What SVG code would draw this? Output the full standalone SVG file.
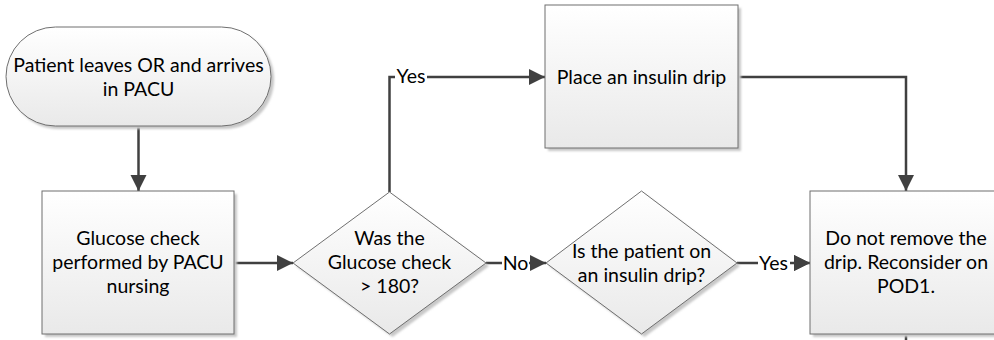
<svg xmlns="http://www.w3.org/2000/svg" width="994" height="340" viewBox="0 0 994 340">
  <defs>
    <linearGradient id="g" x1="0" y1="0" x2="0" y2="1">
      <stop offset="0" stop-color="#ffffff"/>
      <stop offset="1" stop-color="#e9e9e9"/>
    </linearGradient>
    <filter id="sh" x="-10%" y="-10%" width="130%" height="130%">
      <feGaussianBlur stdDeviation="1"/>
    </filter>
    <marker id="arr" markerUnits="userSpaceOnUse" markerWidth="18" markerHeight="18" refX="16" refY="8" orient="auto">
      <path d="M0,0 L16,8 L0,16 z" fill="#404040"/>
    </marker>
  </defs>
  <style>
    .shape { fill: url(#g); stroke: #6f6f6f; stroke-width: 1; }
    .shadow { fill: #c8c8c8; filter: url(#sh); }
    .t { font-family: Lato, "Open Sans", sans-serif; font-size: 19.5px; fill: #000; text-anchor: middle; }
    .c { fill: none; stroke: #404040; stroke-width: 2.5; }
    .lbl { fill: #ffffff; }
  </style>
  <rect width="994" height="340" fill="#ffffff"/>

  <g id="connectors">
    <path class="c" d="M138.5,126 V191" marker-end="url(#arr)"/>
    <path class="c" d="M234,263 H293" marker-end="url(#arr)"/>
    <path class="c" d="M389.5,192 V77 H545" marker-end="url(#arr)"/>
    <path class="c" d="M486,263 H546" marker-end="url(#arr)"/>
    <path class="c" d="M737,263 H810" marker-end="url(#arr)"/>
    <path class="c" d="M738,77 H906 V191" marker-end="url(#arr)"/>
    <path class="c" d="M906,334 V340"/>
    <rect class="lbl" x="395" y="66" width="32" height="20"/>
    <text class="t" x="411" y="83">Yes</text>
    <rect class="lbl" x="502" y="252" width="27" height="20"/>
    <text class="t" x="515.5" y="270">No</text>
    <rect class="lbl" x="758" y="252" width="32" height="20"/>
    <text class="t" x="773.5" y="270">Yes</text>
    <path d="M794,255 L810,263 L794,271 z" fill="#404040"/>
  </g>

  <g id="start">
    <rect class="shadow" x="9" y="30" width="265" height="99" rx="49.5"/>
    <rect class="shape" x="6" y="27" width="265" height="99" rx="49.5"/>
    <text class="t" x="138.5" y="71.5">Patient leaves OR and arrives</text>
    <text class="t" x="138.5" y="96">in PACU</text>
  </g>

  <g id="glucose-check">
    <rect class="shadow" x="45" y="194" width="192" height="143"/>
    <rect class="shape" x="42" y="191" width="192" height="143"/>
    <text class="t" x="138" y="244.5">Glucose check</text>
    <text class="t" x="138" y="268.5">performed by PACU</text>
    <text class="t" x="138" y="292.5">nursing</text>
  </g>

  <g id="decision-180">
    <path class="shadow" d="M392.5,195 L489,266 L392.5,337 L296,266 z"/>
    <path class="shape" d="M389.5,192 L486,263 L389.5,334 L293,263 z"/>
    <text class="t" x="389.5" y="244.5">Was the</text>
    <text class="t" x="389.5" y="268.5">Glucose check</text>
    <text class="t" x="389.5" y="292.5">&gt; 180?</text>
  </g>

  <g id="decision-drip">
    <path class="shadow" d="M644.5,194 L740,266 L644.5,337 L549,266 z"/>
    <path class="shape" d="M641.5,191 L737,263 L641.5,334 L546,263 z"/>
    <text class="t" x="641.5" y="257.5">Is the patient on</text>
    <text class="t" x="641.5" y="281.5">an insulin drip?</text>
  </g>

  <g id="place-drip">
    <rect class="shadow" x="548" y="8" width="193" height="143"/>
    <rect class="shape" x="545" y="5" width="193" height="143"/>
    <text class="t" x="641.5" y="83.5">Place an insulin drip</text>
  </g>

  <g id="keep-drip">
    <rect class="shadow" x="813" y="194" width="192" height="143"/>
    <rect class="shape" x="810" y="191" width="192" height="143"/>
    <text class="t" x="906" y="244.5">Do not remove the</text>
    <text class="t" x="906" y="268.5">drip. Reconsider on</text>
    <text class="t" x="906" y="292.5">POD1.</text>
  </g>
</svg>
